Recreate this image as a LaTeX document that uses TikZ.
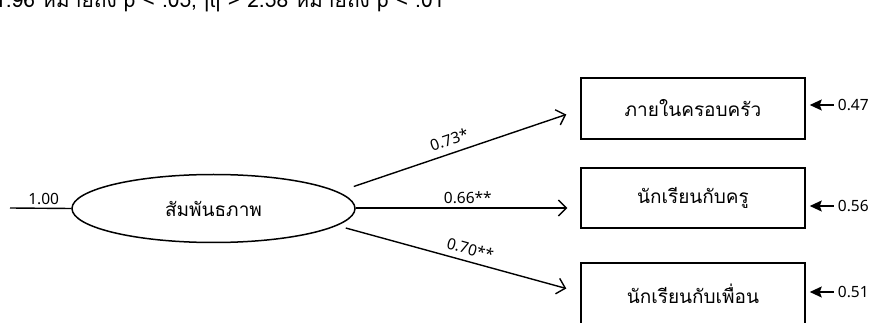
\documentclass[tikz,border=0pt]{standalone}
\usepackage{fontspec}
\setmainfont[Script=Thai]{Loma}
\newfontfamily\numfont{Noto Sans}
\usetikzlibrary{arrows.meta,shapes.geometric,calc}
\begin{document}
\begin{tikzpicture}[x=1pt,y=-1pt,
  thaitext/.style={font=\fontsize{19}{22}\selectfont},
  num/.style={font=\numfont\fontsize{15.5}{18}\selectfont, inner sep=1pt},
  latent/.style={draw, ellipse, line width=1.5pt, minimum width=283pt, minimum height=68pt, inner sep=0pt, thaitext},
  obs/.style={draw, rectangle, line width=1.5pt, minimum width=224pt, inner sep=0pt, thaitext},
  pathline/.style={line width=1.4pt, -{Straight Barb[length=8pt,width=16pt,line width=1.4pt]}},
  errline/.style={line width=1.4pt, -{Stealth[length=12pt,width=11pt,inset=2pt]}},
]
\useasboundingbox (0,0) rectangle (873,323);
\clip (0,0) rectangle (873,323);

% partial heading line (cut at top)
\node[font=\fontsize{21}{24}\selectfont, inner sep=0pt, anchor=base west] (note) at (-6,8) {1.96 หมายถึง p < .05, |t| > 2.58 หมายถึง p < .01};

% latent variable
\node[latent] (lat) at (213.5,208.5) {สัมพันธภาพ};

% observed variables
\node[obs, minimum height=61pt] (b1) at (693,108.5) {ภายในครอบครัว};
\node[obs, minimum height=60pt] (b2) at (693,198) {นักเรียนกับครู};
\node[obs, minimum height=61pt] (b3) at (693,293.5) {นักเรียนกับเพื่อน};

% input line
\coordinate (in) at (10,208);
\draw[line width=1.4pt] (in) -- (lat.west) node[num, pos=0.55, above=2pt] {1.00};

% paths
\draw[pathline] ([shift={(-2,-22)}]lat.east) -- ([shift={(-14,6)}]b1.west)
  node[num, pos=0.47, sloped, above=6pt] {0.73*};
\draw[pathline] ([shift={(0,-0.5)}]lat.east) -- ([shift={(-13,10)}]b2.west)
  node[num, pos=0.53, above=3pt] {0.66**};
\draw[pathline] ([shift={(-10,19.5)}]lat.east) -- ([shift={(-14,-5)}]b3.west)
  node[num, pos=0.55, sloped, above=5pt] {0.70**};

% error terms
\draw[errline] ([shift={(28,-3.5)}]b1.east) coordinate (e1) -- ([shift={(4,-3.5)}]b1.east);
\node[num, anchor=west] (l1) at ([xshift=3pt]e1) {0.47};
\draw[errline] ([shift={(28,8)}]b2.east) coordinate (e2) -- ([shift={(4,8)}]b2.east);
\node[num, anchor=west] (l2) at ([xshift=3pt]e2) {0.56};
\draw[errline] ([shift={(28,-1.5)}]b3.east) coordinate (e3) -- ([shift={(4,-1.5)}]b3.east);
\node[num, anchor=west] (l3) at ([xshift=3pt]e3) {0.51};
\end{tikzpicture}
\end{document}
